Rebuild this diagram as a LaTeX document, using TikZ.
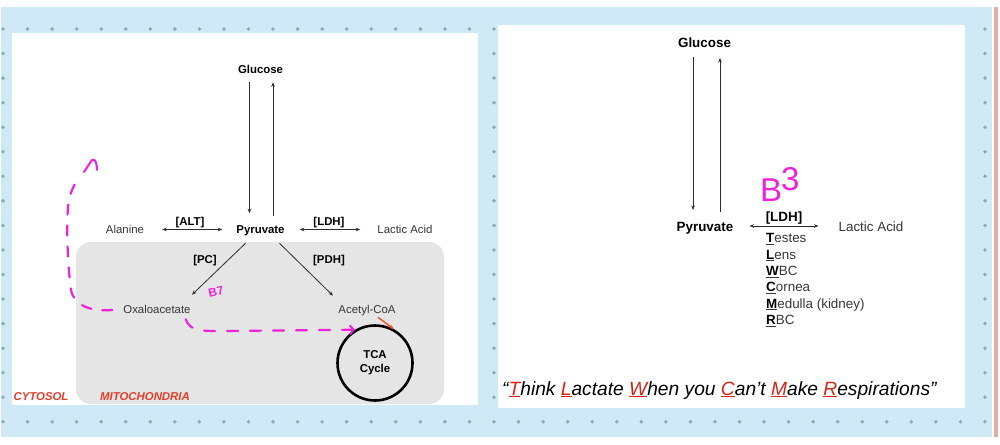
\documentclass[tikz,border=0pt]{standalone}
\usepackage{fontspec}
\setmainfont{Liberation Sans}
\usetikzlibrary{arrows.meta,calc}
\definecolor{bgblue}{RGB}{207,234,246}
\definecolor{dotc}{RGB}{140,166,182}
\definecolor{greyrect}{RGB}{229,229,229}
\definecolor{txtgrey}{RGB}{55,55,55}
\definecolor{arrgrey}{RGB}{45,45,45}
\definecolor{lblred}{RGB}{226,62,42}
\definecolor{qred}{RGB}{214,36,24}
\definecolor{magc}{RGB}{238,34,214}
\definecolor{orangered}{RGB}{232,84,40}
\definecolor{pinkline}{RGB}{232,172,166}
\newcommand{\ul}[1]{\underline{\textbf{\color{black}#1}}}
\newcommand{\qr}[1]{\textcolor{qred}{\underline{#1}}}
\begin{document}
\begin{tikzpicture}[x=1pt,y=-1pt,
  lt/.style={font=\fontsize{11.4}{13.7}\selectfont, text height=8.2pt, text depth=0pt, inner sep=1pt, text=txtgrey},
  lb/.style={lt, font=\fontsize{11.4}{13.7}\selectfont\bfseries, text=black},
  rt/.style={font=\fontsize{13.4}{16.3}\selectfont, text height=9.6pt, text depth=0pt, inner sep=1pt, text=txtgrey},
  rb/.style={rt, font=\fontsize{13.4}{16.3}\selectfont\bfseries, text=black},
  arr/.style={draw=arrgrey, line width=0.8pt, -{Stealth[length=4.5pt,width=3.6pt]}},
  darr/.style={draw=arrgrey, line width=0.8pt, {Stealth[length=4.5pt,width=3.6pt]}-{Stealth[length=4.5pt,width=3.6pt]}},
  magdash/.style={draw=magc, line width=2.2pt, dash pattern=on 11pt off 12pt, line cap=round},
  redlbl/.style={font=\fontsize{11.4}{13.7}\selectfont\bfseries\itshape, text=lblred, inner sep=0pt},
  hand/.style={text=magc, inner sep=0pt}
]
\useasboundingbox (0,0) rectangle (1000,444);
% background
\fill[white] (0,0) rectangle (1000,444);
\fill[bgblue] (1,7) rectangle (992,437);
\foreach \i in {0,...,40}
  \foreach \j in {0,...,16}
    \fill[dotc] ({3+24.55*\i},{29+24.55*\j}) circle (1.9pt);
\fill[pinkline] (994,7) rectangle (997.5,437);
% panels
\fill[white] (12,33) rectangle (478,405);
\fill[white] (498,25) rectangle (965,408);
\fill[greyrect, rounded corners=15pt] (76,242) rectangle (444,404);

% ---------- left panel ----------
\node[lb] (glu) at (260.5,69) {Glucose};
\node[lb] (pyr) at (260.5,229.5) {Pyruvate};
\node[lt] (ala) at (125,229.5) {Alanine};
\node[lt] (lac) at (405,229.5) {Lactic Acid};
\node[lb] (alt) at (190,221) {[ALT]};
\node[lb] (ldh) at (329,221) {[LDH]};
\node[lb] (pc) at (205,259) {[PC]};
\node[lb] (pdh) at (329,259) {[PDH]};
\node[lt] (oxa) at (157,309) {Oxaloacetate};
\node[lt] (acc) at (367,309) {Acetyl-CoA};
\node[draw=black, line width=2.6pt, circle, minimum size=75pt, inner sep=0pt,
      font=\fontsize{11.4}{14}\selectfont\bfseries, align=center] (tca) at (375,363) {TCA\\Cycle};
\node[redlbl] (cyto) at (41,397) {CYTOSOL};
\node[redlbl] (mito) at (145,397) {MITOCHONDRIA};

\draw[arr] ([xshift=-11pt,yshift=-8pt]glu.south) -- ([xshift=-11pt,yshift=11pt]pyr.north);
\draw[arr] ([xshift=12.5pt,yshift=8pt]pyr.north) -- ([xshift=12.5pt,yshift=-8pt]glu.south);
\draw[darr] ([xshift=17pt]ala.east) -- ([xshift=-13pt]pyr.west);
\draw[darr] ([xshift=14pt]pyr.east) -- ([xshift=-16pt]lac.west);
\draw[arr] ($(pyr.south)+(-15,8.5)$) -- ($(oxa.north)+(35,-9)$);
\draw[arr] ($(pyr.south)+(19,8.5)$) -- ($(acc.north)+(-34,-8)$);
\draw[draw=orangered, line width=1.4pt, -{Stealth[length=4.5pt,width=4pt]}] ($(acc.south)+(11,3)$) -- (tca.61);

% magenta annotations
\draw[magdash, -{Straight Barb[length=4pt,width=9pt,line width=2pt]}]
  ($(oxa.south east)+(-6,5)$) .. controls (190,331) and (200,331) .. (222,331) -- (tca.121);
\draw[magdash, dash pattern=on 10pt off 11pt]
  ($(oxa.west)+(-10,1)$) .. controls (90,312) and (74,305) .. (71,290)
  .. controls (67,260) and (66,215) .. (69,200) .. controls (71,191) and (74,185) .. (78,179);
\draw[magc, line width=2pt, line cap=round, line join=round]
  (84,172) -- (92,160) .. controls (95,158) and (97,163) .. (97,170);
\node[hand, font=\fontsize{12}{12}\selectfont\bfseries, rotate=12] (b7) at (216,292) {B7};

% ---------- right panel ----------
\node[rb] (glu2) at (704.5,43) {Glucose};
\node[rb] (pyr2) at (705,227) {Pyruvate};
\node[rt] (lac2) at (871,227) {Lactic Acid};
\node[rb] (ldh2) at (784,216.5) {[LDH]};
\draw[arr] ([xshift=-11.5pt,yshift=-8pt]glu2.south) -- ([xshift=-12pt,yshift=11pt]pyr2.north);
\draw[arr] ([xshift=15pt,yshift=9pt]pyr2.north) -- ([xshift=15.5pt,yshift=-9pt]glu2.south);
\draw[darr] ([xshift=15pt,yshift=1pt]pyr2.east) -- ([xshift=-19pt,yshift=1pt]lac2.west);
\node[anchor=north west, inner sep=0pt, align=left, text=txtgrey,
      font=\fontsize{13.4}{16.3}\selectfont] (list) at (766,233.4)
  {\ul{T}estes\\ \ul{L}ens\\ \ul{W}BC\\ \ul{C}ornea\\ \ul{M}edulla (kidney)\\ \ul{R}BC};
\node[hand, font=\fontsize{33}{33}\selectfont, anchor=base west] (b3) at (760,201) {B\kern-1pt\raisebox{11pt}{3}};
\node[anchor=base west, inner sep=0pt, font=\fontsize{19.2}{22}\selectfont\itshape] (quote) at (502,395)
  {“\qr{T}hink \qr{L}actate \qr{W}hen you \qr{C}an’t \qr{M}ake \qr{R}espirations”};
\end{tikzpicture}
\end{document}
